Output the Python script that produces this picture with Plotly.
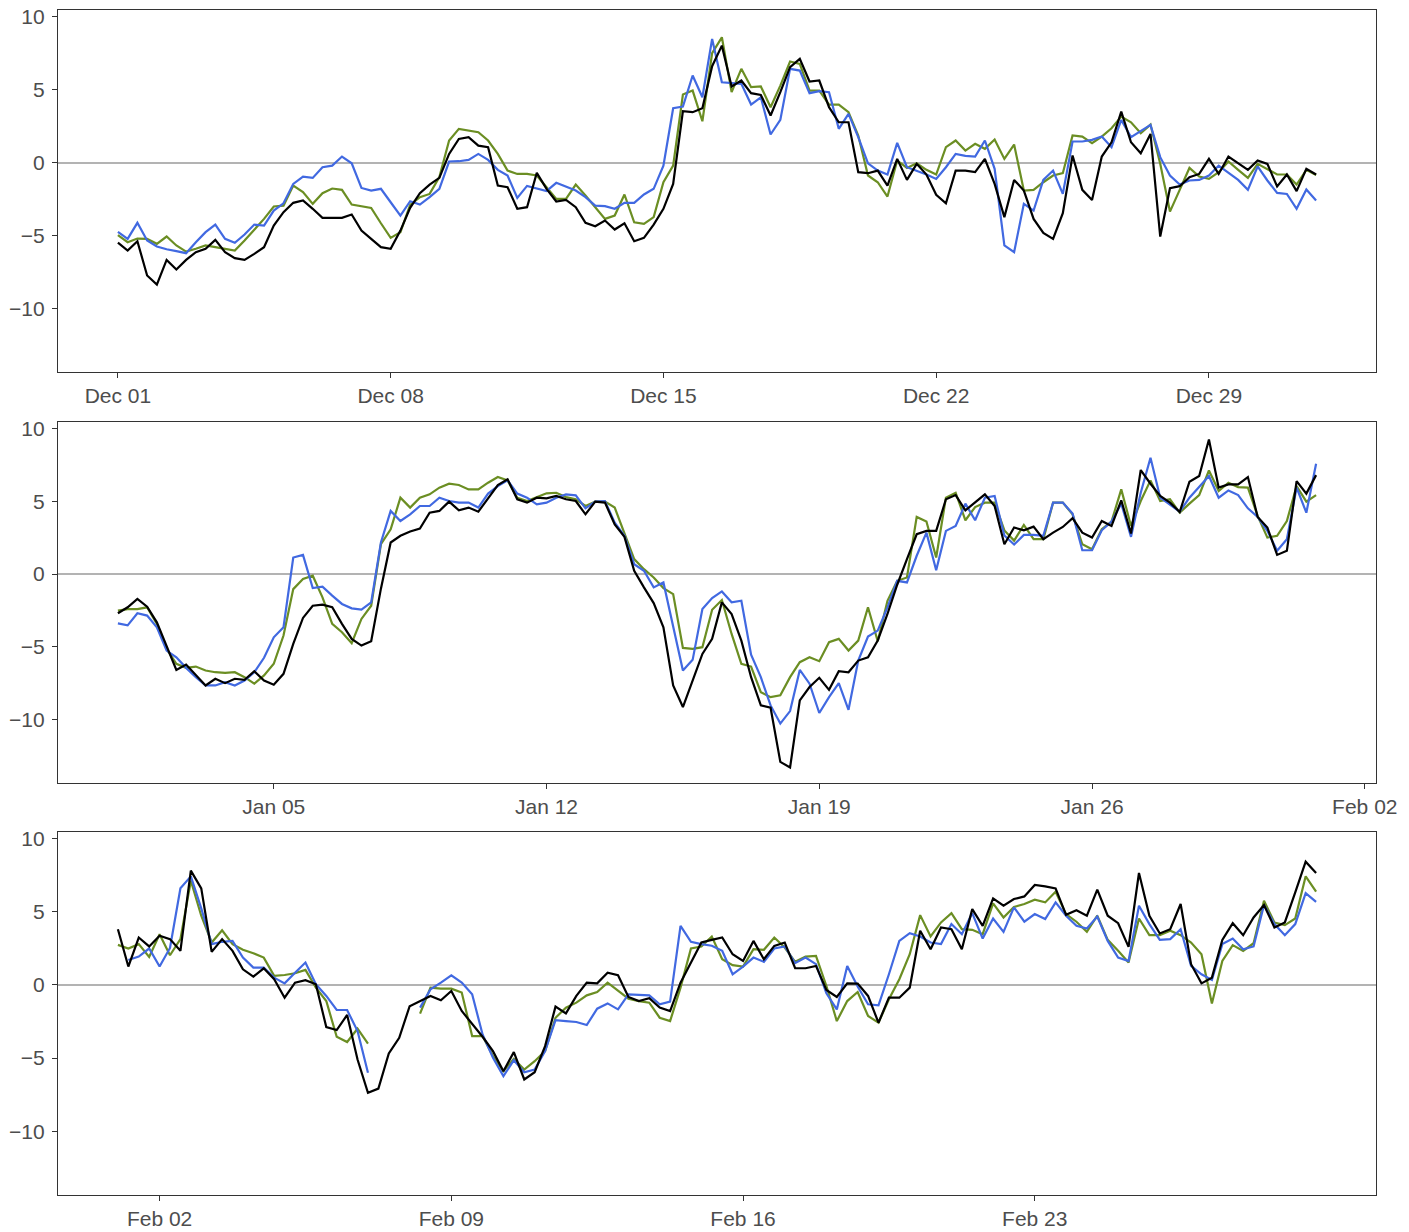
import pandas as pd
import plotly.graph_objects as go

# ---------------- data (6-hourly values) ----------------
dec_start = "2023-12-01"
jan_start = "2024-01-01"
feb_start = "2024-02-01"

dec_black = [-5.48, -6.03, -5.39, -7.74, -8.36, -6.67, -7.33, -6.67, -6.14, -5.91, -5.30, -6.14, -6.55, -6.67, -6.26, -5.80, -4.32, -3.40, -2.76, -2.60, -3.17, -3.79, -3.79, -3.79, -3.56, -4.66, -5.23, -5.80, -5.91, -4.66, -3.1,
             -2.10, -1.51, -1.05, 0.59, 1.62, 1.74, 1.16, 1.05, -1.58, -1.69, -3.17, -3.06, -0.71, -1.80, -2.67, -2.56, -3.06, -4.13, -4.36, -3.97, -4.59, -4.16, -5.39, -5.16, -4.25, -3.17, -1.46, 3.52, 3.45, 3.72, 6.6,
             8.01, 5.21, 5.62, 4.75, 4.63, 3.22, 4.82, 6.53, 7.10, 5.55, 5.62, 3.79, 2.76, 2.76, -0.66, -0.73, -0.55, -1.58, 0.25, -1.19, -0.09, -0.82, -2.21, -2.79, -0.55, -0.55, -0.66, 0.25, -1.46, -3.74, -1.19,
             -1.92, -3.86, -4.82, -5.23, -3.47, 0.48, -1.87, -2.56, 0.41, 1.39, 3.49, 1.39, 0.64, 1.96, -5.07, -1.76, -1.62, -1.00, -0.78, 0.25, -0.78, 0.41, -0.05, -0.50, 0.14, -0.09, -1.64, -0.82, -1.96, -0.43, -0.82]
dec_green = [-4.98, -5.46, -5.21, -5.23, -5.57, -5.07, -5.68, -6.10, -5.91, -5.68, -5.80, -5.91, -6.03, -5.34, -4.62, -3.86, -3.01, -2.95, -1.58, -2.03, -2.83, -2.10, -1.78, -1.87, -2.88, -2.99, -3.11, -4.16, -5.16, -4.77, -2.9,
             -2.37, -2.15, -1.00, 1.51, 2.31, 2.19, 2.08, 1.51, 0.59, -0.55, -0.78, -0.78, -0.89, -1.69, -2.49, -2.49, -1.51, -2.26, -3.06, -3.86, -3.63, -2.19, -4.09, -4.20, -3.74, -1.35, -0.21, 4.66, 4.93, 2.83, 7.5,
             8.58, 4.82, 6.42, 5.16, 5.21, 3.79, 5.27, 6.92, 6.76, 4.93, 4.93, 3.97, 3.97, 3.45, 1.85, -0.89, -1.35, -2.33, 0.14, -0.37, -0.05, -0.50, -0.82, 1.05, 1.51, 0.82, 1.28, 0.94, 1.58, 0.25, 1.23,
             -1.92, -1.87, -1.35, -0.89, -0.73, 1.85, 1.78, 1.32, 1.78, 2.35, 3.15, 2.76, 2.01, 2.60, -0.09, -3.36, -1.87, -0.37, -0.96, -1.12, -0.66, 0.07, -0.50, -1.05, -0.09, -0.43, -0.82, -0.82, -1.51, -0.50, -0.85]
dec_blue = [-4.75, -5.23, -4.13, -5.34, -5.75, -5.94, -6.07, -6.21, -5.46, -4.77, -4.25, -5.23, -5.50, -4.93, -4.25, -4.32, -3.29, -2.79, -1.46, -0.96, -1.05, -0.32, -0.21, 0.41, -0.05, -1.74, -1.92, -1.80, -2.72, -3.63, -2.65,
            -2.88, -2.37, -1.80, 0.07, 0.09, 0.18, 0.59, 0.18, -0.50, -0.89, -2.42, -1.60, -1.76, -1.96, -1.39, -1.64, -1.92, -2.37, -2.95, -2.99, -3.17, -2.76, -2.76, -2.19, -1.80, -0.21, 3.72, 3.84, 5.96, 4.47, 8.47,
            5.50, 5.43, 5.39, 3.97, 4.47, 1.92, 2.92, 6.42, 6.30, 4.75, 4.89, 4.82, 2.31, 3.33, 1.74, -0.05, -0.55, -0.82, 1.35, -0.32, -0.55, -0.82, -1.12, -0.32, 0.59, 0.46, 0.41, 1.51, -0.43, -5.68, -6.14,
            -2.83, -3.29, -1.19, -0.55, -2.15, 1.44, 1.44, 1.55, 1.78, 1.05, 2.92, 1.74, 2.19, 2.58, 0.37, -0.89, -1.51, -1.23, -1.19, -0.89, -0.21, -0.73, -1.19, -1.87, -0.27, -1.23, -2.08, -2.15, -3.17, -1.85, -2.60]

jan_black = [-2.69, -2.28, -1.71, -2.24, -3.31, -4.91, -6.58, -6.21, -6.92, -7.65, -7.19, -7.49, -7.19, -7.26, -6.67, -7.31, -7.60, -6.85, -4.79, -3.01, -2.17, -2.10, -2.28, -3.42, -4.45, -4.91, -4.61, -1.0, 2.17, 2.63, 2.93,
             3.13, 4.22, 4.34, 4.98, 4.38, 4.57, 4.29, 5.21, 6.12, 6.51, 5.14, 4.91, 5.25, 5.21, 5.37, 5.14, 5.02, 4.11, 4.98, 4.91, 3.42, 2.56, 0.23, -0.91, -1.99, -3.65, -7.65, -9.13, -7.31, -5.48, -4.45,
             -1.94, -2.74, -4.57, -7.08, -9.02, -9.18, -12.90, -13.29, -8.68, -7.76, -7.12, -7.95, -6.67, -6.74, -5.94, -5.71, -4.57, -2.74, -0.73, 1.03, 2.74, 2.97, 2.97, 5.14, 5.43, 4.38, 4.91, 5.48, 4.68, 2.05, 3.20,
             3.01, 3.26, 2.40, 2.85, 3.24, 3.84, 2.85, 2.51, 3.65, 3.31, 5.07, 2.79, 7.15, 6.21, 5.37, 4.91, 4.27, 6.35, 6.74, 9.25, 5.94, 6.16, 6.16, 6.67, 3.93, 3.20, 1.32, 1.60, 6.39, 5.53, 6.80]
jan_green = [-2.51, -2.40, -2.40, -2.28, -3.42, -5.14, -6.16, -6.44, -6.35, -6.62, -6.74, -6.78, -6.74, -7.08, -7.53, -6.96, -6.16, -4.22, -1.03, -0.34, -0.11, -1.60, -3.42, -3.99, -4.75, -3.08, -2.17, 2.05, 3.08, 5.25, 4.57,
             5.25, 5.48, 5.94, 6.21, 6.12, 5.82, 5.82, 6.28, 6.67, 6.44, 5.25, 5.02, 5.30, 5.55, 5.59, 5.30, 5.14, 4.68, 4.98, 4.98, 4.57, 2.74, 1.03, 0.34, -0.23, -0.96, -1.37, -5.07, -5.14, -5.02, -2.45,
             -1.78, -4.11, -6.16, -6.35, -8.11, -8.45, -8.33, -7.08, -6.05, -5.71, -5.98, -4.68, -4.45, -5.25, -4.57, -2.28, -4.61, -1.83, -0.46, -0.23, 3.93, 3.61, 1.14, 5.25, 5.59, 3.70, 4.61, 4.91, 4.91, 3.0, 2.30,
             3.38, 2.40, 2.40, 4.91, 4.91, 4.11, 2.05, 1.71, 3.08, 3.61, 5.82, 3.31, 5.02, 6.44, 5.02, 5.14, 4.22, 4.84, 5.43, 7.12, 5.71, 6.28, 5.98, 5.94, 4.00, 2.51, 2.63, 3.65, 6.05, 4.98, 5.43]
jan_blue = [-3.38, -3.52, -2.69, -2.85, -3.65, -5.25, -5.71, -6.44, -7.08, -7.65, -7.65, -7.42, -7.65, -7.31, -6.74, -5.75, -4.34, -3.65, 1.14, 1.32, -0.96, -0.87, -1.48, -2.05, -2.35, -2.44, -1.94, 2.17, 4.34, 3.65, 4.10,
            4.68, 4.68, 5.25, 5.02, 4.91, 4.91, 4.57, 5.53, 6.05, 6.44, 5.53, 5.25, 4.79, 4.91, 5.25, 5.48, 5.41, 4.52, 4.98, 5.02, 3.54, 2.63, 0.68, 0.23, -0.91, -0.57, -3.65, -6.62, -5.89, -2.40, -1.65,
            -1.19, -1.94, -1.83, -5.53, -7.08, -9.02, -10.27, -9.41, -6.58, -7.53, -9.54, -8.45, -7.49, -9.32, -5.94, -4.29, -3.88, -2.28, -0.46, -0.57, 1.26, 2.85, 0.27, 2.97, 3.31, 4.84, 3.70, 5.25, 5.37, 2.65, 2.03,
            2.69, 2.69, 2.63, 4.91, 4.91, 4.16, 1.64, 1.64, 3.01, 3.61, 4.84, 2.56, 5.59, 7.99, 5.25, 4.75, 4.29, 5.25, 5.98, 6.74, 5.25, 5.75, 5.43, 4.52, 3.93, 2.97, 1.60, 2.40, 5.94, 4.22, 7.58]

feb_black = [3.81, 1.26, 3.24, 2.63, 3.36, 3.13, 2.33, 7.81, 6.60, 2.26, 3.13, 2.33, 1.07, 0.57, 1.14, 0.39, -0.87, 0.16, 0.32, 0.05, -2.88, -3.08, -2.05, -5.09, -7.37, -7.08, -4.68, -3.61, -1.45,
             -1.10, -0.75, -1.05, -0.41, -1.78, -2.65, -3.54, -4.52, -5.89, -4.59, -6.46, -5.96, -4.18, -1.48, -1.94, -0.75, 0.16, 0.11, 0.84, 0.66, -0.82, -1.10, -0.91, -1.55, -1.78, 0.16, 1.58, 2.90, 3.08,
             3.24, 2.10, 1.64, 3.01, 1.76, 2.67, 2.90, 1.14, 1.14, 1.30, -0.34, -0.82, 0.11, 0.09, -0.75, -2.58, -0.87, -0.87, -0.18, 3.70, 2.44, 3.93, 3.81, 2.44, 5.18, 4.04, 5.91, 5.41, 5.87,
             6.05, 6.83, 6.74, 6.60, 4.79, 5.11, 4.73, 6.51, 4.73, 4.22, 2.60, 7.65, 4.73, 3.52, 3.81, 5.53, 1.42, 0.11, 0.50, 3.08, 4.22, 3.40, 4.61, 5.46, 3.93, 4.27, 6.32, 8.42, 7.65]
feb_green = [2.74, 2.49, 2.79, 1.92, 3.47, 2.03, 3.13, 7.12, 4.73, 2.90, 3.74, 2.79, 2.40, 2.17, 1.87, 0.62, 0.68, 0.80, 1.03, -0.18, -1.10, -3.54, -3.90, -2.99, -4.00, None, None, None, None,
             -1.96, -0.18, -0.25, -0.25, -0.52, -3.49, -3.49, -4.86, -5.89, -5.05, -5.78, -5.21, -4.52, -2.24, -1.55, -1.21, -0.71, -0.48, 0.16, -0.41, -0.94, -1.10, -1.21, -2.24, -2.47, -0.18, 2.49, 2.63, 3.31,
             1.76, 1.35, 1.26, 2.44, 2.40, 3.24, 2.56, 1.58, 1.94, 1.99, -0.07, -2.47, -1.10, -0.48, -2.12, -2.58, -0.98, 0.39, 2.10, 4.77, 3.31, 4.27, 4.91, 3.81, 3.77, 3.47, 5.57, 4.61, 5.33,
             5.53, 5.82, 5.64, 6.37, 4.84, 4.32, 3.63, 4.73, 3.08, 2.33, 1.53, 4.54, 3.40, 3.40, 3.70, 3.40, 2.90, 2.10, -1.26, 1.64, 2.72, 2.33, 2.85, 5.75, 4.27, 4.09, 4.54, 7.42, 6.37]
feb_blue = [None, 1.71, 1.94, 2.49, 1.26, 2.53, 6.60, 7.42, 5.23, 2.79, 2.95, 3.01, 1.87, 1.19, 1.19, 0.50, 0.11, 0.84, 1.53, 0.05, -0.75, -1.71, -1.71, -3.15, -6.00, None, None, None, None,
            -1.55, -0.30, 0.16, 0.66, 0.16, -0.64, -3.38, -4.98, -6.23, -5.14, -5.96, -5.78, -4.52, -2.40, -2.47, -2.53, -2.74, -1.62, -1.26, -1.67, -0.64, -0.68, -0.71, -1.32, -1.14, 4.04, 2.95, 2.79, 2.68,
            2.33, 0.73, 1.26, 1.87, 1.58, 2.49, 2.63, 1.49, 1.87, 1.42, -0.57, -1.67, 1.30, -0.11, -1.32, -1.39, 0.73, 3.01, 3.54, 3.31, 2.90, 2.79, 4.16, 3.47, 4.91, 3.17, 4.54, 3.63, 5.30,
            4.32, 4.84, 4.50, 5.64, 4.73, 4.04, 3.86, 4.68, 3.01, 1.87, 1.64, 5.41, 4.16, 3.08, 3.13, 3.81, 1.30, 0.73, 0.34, 2.79, 3.17, 2.44, 2.63, 5.46, 4.16, 3.40, 4.16, 6.28, 5.68]

dec_ticks = ["2023-12-01", "2023-12-08", "2023-12-15", "2023-12-22", "2023-12-29"]
jan_ticks = ["2024-01-05", "2024-01-12", "2024-01-19", "2024-01-26", "2024-02-02"]
feb_ticks = ["2024-02-02", "2024-02-09", "2024-02-16", "2024-02-23"]
y_ticks = [-10, -5, 0, 5, 10]

colors = {"green": "#6B8E23", "blue": "#4169E1", "black": "#000000"}

panels = [
    (dec_start, dec_green, dec_blue, dec_black, dec_ticks, [0.69451, 1.0]),
    (jan_start, jan_green, jan_blue, jan_black, jan_ticks, [0.34768, 0.65232]),
    (feb_start, feb_green, feb_blue, feb_black, feb_ticks, [0.0, 0.30633]),
]

fig = go.Figure()
tickfont = dict(family="Liberation Sans, Arial, sans-serif", size=21, color="#4D4D4D")

for k, (start, g, b, bl, ticks, dom) in enumerate(panels):
    n = len(bl)
    t = pd.date_range(start, periods=n, freq="6h")
    xa = "x" if k == 0 else f"x{k+1}"
    ya = "y" if k == 0 else f"y{k+1}"
    for vals, col in [(g, colors["green"]), (b, colors["blue"]), (bl, colors["black"])]:
        fig.add_trace(go.Scatter(x=t, y=vals, mode="lines", xaxis=xa, yaxis=ya,
                                 line=dict(color=col, width=2.2), connectgaps=False,
                                 showlegend=False, hoverinfo="skip"))
    span = t[-1] - t[0]
    pad = span * 0.05
    xr = [t[0] - pad, t[-1] + pad]
    axkey = "xaxis" if k == 0 else f"xaxis{k+1}"
    aykey = "yaxis" if k == 0 else f"yaxis{k+1}"
    fig.layout[axkey] = dict(
        domain=[0, 1], anchor=ya, range=[x.strftime("%Y-%m-%d %H:%M:%S") for x in xr],
        tickvals=ticks, tickformat="%b %d", ticks="outside", ticklen=5, tickwidth=1.3,
        tickcolor="#333333", showline=True, mirror=True, linecolor="#333333", linewidth=1.3,
        showgrid=False, zeroline=False, tickfont=tickfont, ticklabelstandoff=0,
        automargin=False,
    )
    fig.layout[aykey] = dict(
        domain=dom, anchor=xa, range=[-14.35, 10.45], tickvals=y_ticks,
        ticks="outside", ticklen=5, tickwidth=1.3, tickcolor="#333333",
        showline=True, mirror=True, linecolor="#333333", linewidth=1.3,
        showgrid=False, zeroline=True, zerolinecolor="#B3B3B3", zerolinewidth=2,
        tickfont=tickfont, ticklabelstandoff=3, automargin=False,
    )

fig.update_layout(
    width=1409, height=1232,
    margin=dict(l=58, r=33, t=10, b=37),
    paper_bgcolor="white", plot_bgcolor="white",
    showlegend=False,
)

# remove the browser's default 8px body margin so the figure sits at the page origin
fig.write_html("out.html", config={"displayModeBar": False},
               post_script="document.body.style.margin='0px';document.body.style.overflow='hidden';")
